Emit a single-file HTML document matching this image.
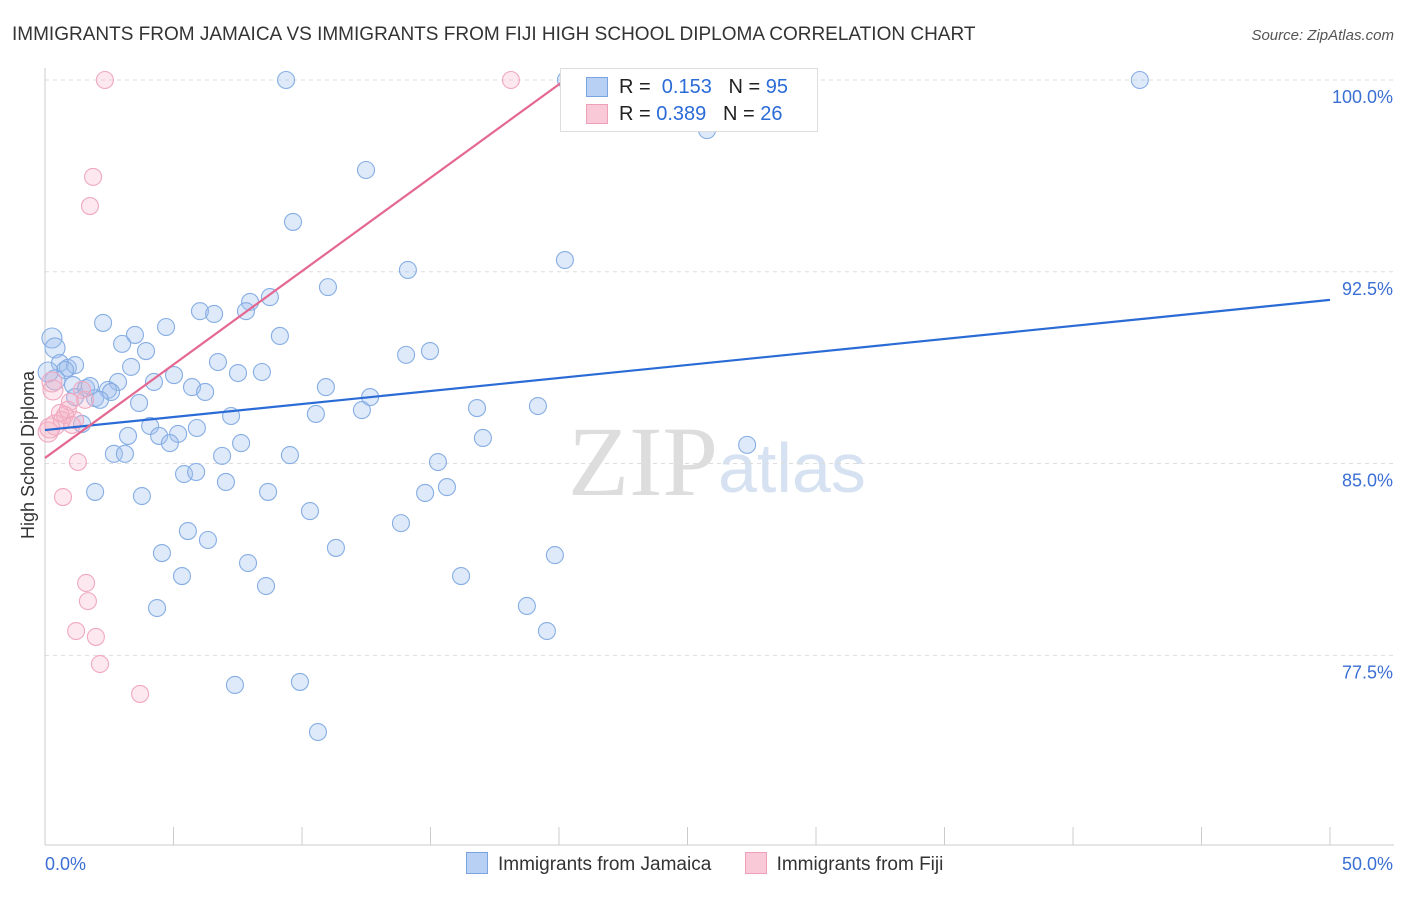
<!DOCTYPE html>
<html><head><meta charset="utf-8"><style>
body{margin:0;background:#fff;font-family:"Liberation Sans",sans-serif;}
#c{position:relative;width:1406px;height:892px;}
</style></head><body>
<div id="c">
<svg id="s" width="1406" height="892" xmlns="http://www.w3.org/2000/svg">
<text x="12" y="40" font-size="19" fill="#333">IMMIGRANTS FROM JAMAICA VS IMMIGRANTS FROM FIJI HIGH SCHOOL DIPLOMA CORRELATION CHART</text>
<text x="1394" y="40" font-size="15" fill="#555" font-style="italic" text-anchor="end">Source: ZipAtlas.com</text>
<text x="34" y="455" font-size="18" fill="#333" transform="rotate(-90 34 455)" text-anchor="middle">High School Diploma</text>
<text x="718" y="495" font-size="100" fill="#ddd" text-anchor="end" font-family="Liberation Serif">ZIP</text>
<text x="718" y="492" font-size="70" fill="#d6e2f2">atlas</text>
<g id="grid"></g><g id="marks"></g>
</svg>
</div>
<script>
const yTicks=[100,92.5,85,77.5];
const yTickLabels=["100.0%","92.5%","85.0%","77.5%"];
const xTicks=[0,5,10,15,20,25,30,35,40,45,50];
const blueX=[9.38,20.27,42.6,25.76,12.49,9.65,14.12,20.23,11.01,8.75,7.98,7.82,6.03,6.58,2.26,4.71,3.5,9.14,0.27,0.39,3.0,3.93,14.05,14.98,6.73,0.58,0.89,3.35,7.51,8.44,5.02,4.24,2.84,1.09,5.72,6.23,10.93,1.6,2.45,2.57,1.17,1.95,2.14,12.65,3.66,12.33,16.81,19.18,7.24,10.54,1.44,4.09,5.18,4.44,3.23,4.86,5.91,7.63,17.04,2.68,3.11,6.89,9.53,5.41,5.88,15.29,7.04,1.95,3.77,8.68,14.79,15.64,10.31,13.85,5.56,6.34,11.32,4.55,19.84,7.9,5.33,8.6,16.19,4.36,18.75,19.53,7.39,9.92,10.62,27.32,1.17,0.78,0.39,1.75,0.12];
const blueY=[100,100,100,98.04,96.48,94.45,92.57,92.96,91.9,91.51,91.32,90.96,90.96,90.85,90.5,90.34,90.03,89.99,89.91,89.52,89.68,89.4,89.25,89.4,88.97,88.93,88.74,88.78,88.54,88.58,88.46,88.19,88.19,88.07,87.99,87.8,87.99,87.95,87.88,87.8,87.6,87.56,87.49,87.6,87.37,87.09,87.17,87.25,86.86,86.94,86.55,86.47,86.16,86.08,86.08,85.8,86.39,85.8,86.0,85.38,85.38,85.3,85.33,84.59,84.67,85.06,84.28,83.89,83.73,83.89,83.85,84.08,83.14,82.67,82.36,82.01,81.7,81.5,81.42,81.11,80.6,80.21,80.6,79.35,79.43,78.45,76.34,76.46,74.5,85.73,88.85,88.66,88.27,88.03,88.58];
const pinkX=[2.33,18.13,1.87,1.75,0.27,0.31,1.44,0.97,1.56,0.58,0.78,1.17,1.05,0.12,1.28,0.7,1.6,1.67,1.21,1.98,2.14,3.7,0.39,0.66,0.89,0.19];
const pinkY=[100,100,96.21,95.07,88.19,87.88,87.88,87.41,87.49,86.98,86.9,86.7,86.51,86.23,85.06,83.69,80.33,79.62,78.45,78.22,77.16,75.99,86.51,86.7,87.1,86.39];
const blueTrend=[86.31,0.1018];
const pinkTrend=[85.22,0.7305];
const NS="http://www.w3.org/2000/svg";
const X=v=>45+v*25.7, Y=v=>80+(100-v)*25.57;
function mk(t,a,p){const e=document.createElementNS(NS,t);for(const k in a)e.setAttribute(k,a[k]);document.getElementById(p).appendChild(e);return e;}
yTicks.forEach((t,i)=>{
 const l=mk('line',{x1:45,x2:1394,y1:Y(t),y2:Y(t),stroke:'#ddd','stroke-dasharray':'4,4'},'grid');
 
 
 const tx=mk('text',{x:1393,y:Y(t)+23,'font-size':18,fill:'#3b6fd4','text-anchor':'end'},'grid');tx.textContent=yTickLabels[i];
 
 
});
const ax=mk('line',{x1:45,x2:45,y1:68,y2:845,stroke:'#ccc'},'grid');


const bx=mk('line',{x1:45,x2:1394,y1:845,y2:845,stroke:'#ccc'},'grid');


xTicks.forEach(t=>{const l=mk('line',{x1:X(t),x2:X(t),y1:827,y2:845,stroke:'#ccc'},'grid');
 
 });
[[0,"0.0%","start",45],[50,"50.0%","end",1393]].forEach(d=>{const t=mk('text',{x:d[3],y:870,'font-size':18,fill:'#3b6fd4','text-anchor':d[2]},'grid');t.textContent=d[1];
 
 });
function pts(xs,ys,fill,stroke,name){xs.forEach((x,i)=>{const c=mk('circle',{cx:X(x),cy:Y(ys[i]),r:(x<0.5?10:8.5),fill:fill,stroke:stroke,'stroke-width':1.1},'marks');
 
 });}
pts(blueX,blueY,'rgba(160,192,238,0.35)','#86aee4','jamaica-point');
pts(pinkX,pinkY,'rgba(246,178,200,0.3)','#f0a8c0','fiji-point');
const bl=mk('line',{x1:X(0),y1:Y(blueTrend[0]),x2:X(50),y2:Y(blueTrend[0]+50*blueTrend[1]),stroke:'#2a6bd6','stroke-width':2.2},'marks');


const pxe=(100-pinkTrend[0])/pinkTrend[1];
const pl=mk('line',{x1:X(0),y1:Y(pinkTrend[0]),x2:X(pxe),y2:Y(100),stroke:'#e46890','stroke-width':2.2},'marks');


</script>
<div style="position:absolute;left:560px;top:68px;width:256px;height:62px;border:1px solid #ddd;background:#fff;font-size:20px;color:#222;">
 <div style="position:absolute;left:26px;top:7px;"><span style="position:absolute;left:-1px;top:1px;width:20px;height:18px;background:#b8d0f3;border:1px solid #7aa3e0;"></span><span style="position:absolute;left:32px;white-space:nowrap">R = <span style="color:#2a6bd6">&nbsp;0.153</span>&nbsp;&nbsp;&nbsp;N = <span style="color:#2a6bd6">95</span></span></div>
 <div style="position:absolute;left:26px;top:34px;"><span style="position:absolute;left:-1px;top:1px;width:20px;height:18px;background:#f9c9d8;border:1px solid #eea0ba;"></span><span style="position:absolute;left:32px;white-space:nowrap">R = <span style="color:#2a6bd6">0.389</span>&nbsp;&nbsp;&nbsp;N = <span style="color:#2a6bd6">26</span></span></div>
</div>
<div style="position:absolute;left:466px;top:852px;font-size:19px;color:#333;white-space:nowrap;">
 <span style="display:inline-block;"><span style="display:inline-block;width:20px;height:20px;background:#b8d0f3;border:1px solid #7aa3e0;vertical-align:-4px;margin-right:10px"></span>Immigrants from Jamaica</span>
 <span style="display:inline-block;margin-left:28px"><span style="display:inline-block;width:20px;height:20px;background:#f9c9d8;border:1px solid #eea0ba;vertical-align:-4px;margin-right:10px"></span>Immigrants from Fiji</span>
</div>
</body></html>
